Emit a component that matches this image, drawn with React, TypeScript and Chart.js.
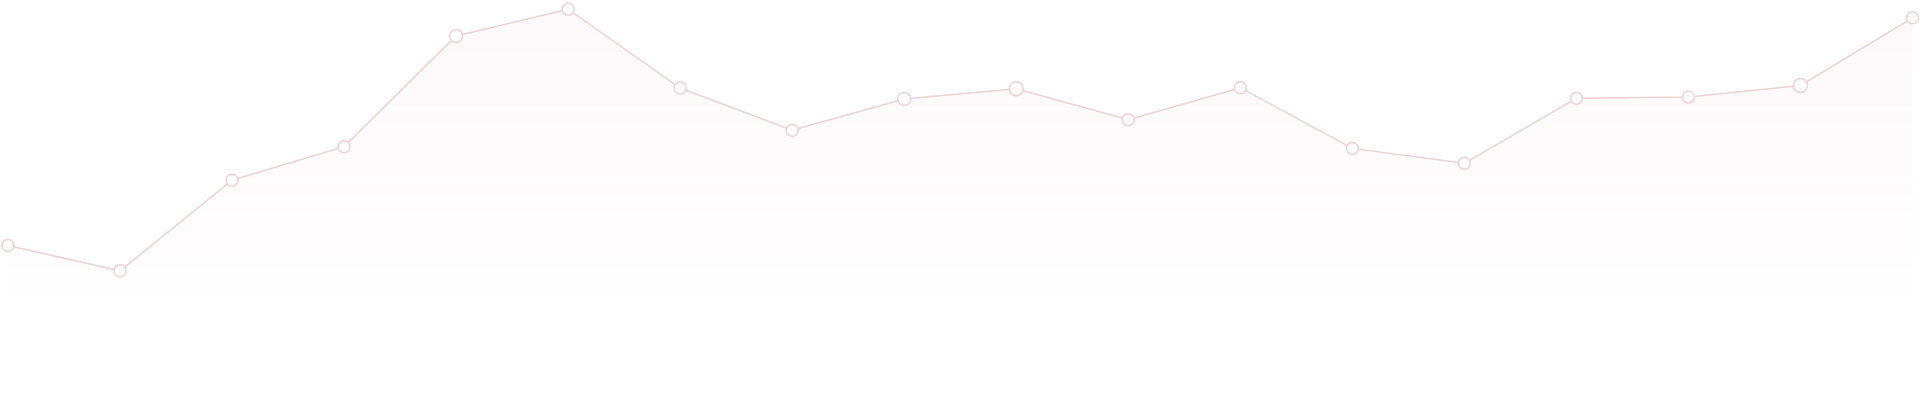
import React, { useEffect, useRef } from "react";
import { Chart, registerables } from "chart.js";

Chart.register(...registerables);

const labels: string[] = [
  "1", "2", "3", "4", "5", "6", "7", "8", "9",
  "10", "11", "12", "13", "14", "15", "16", "17", "18",
];

const values: number[] = [
  17.2, 8.4, 39.9, 51.6, 90.1, 99.4, 72.0, 57.3, 68.2,
  71.7, 61.0, 72.1, 51.0, 45.8, 68.4, 68.9, 72.9, 96.4,
];

const pointRadii: number[] = [
  6, 6, 6, 6, 6.5, 6, 6, 6, 6.5, 7, 6, 6, 6, 6, 6, 6, 7, 6,
];

const Y_MIN = 0;
const Y_MAX = 100;
const LINE_COLOR = "#ecd2d2";

export default function App() {
  const canvasRef = useRef<HTMLCanvasElement | null>(null);

  useEffect(() => {
    if (!canvasRef.current) return;
    const chart = new Chart(canvasRef.current, {
      type: "line",
      data: {
        labels,
        datasets: [
          {
            data: values,
            borderColor: LINE_COLOR,
            borderWidth: 1.5,
            tension: 0,
            fill: "start",
            clip: false,
            pointRadius: pointRadii,
            pointBorderWidth: 1.5,
            pointBorderColor: LINE_COLOR,
            pointBackgroundColor: "#ffffff",
            backgroundColor: (ctx: any) => {
              const area = ctx.chart.chartArea;
              if (!area) return "rgba(225,170,185,0.05)";
              const g = ctx.chart.ctx.createLinearGradient(0, area.top, 0, area.bottom);
              g.addColorStop(0, "rgba(225,170,185,0.08)");
              g.addColorStop(1, "rgba(225,170,185,0.015)");
              return g;
            },
          },
        ],
      },
      options: {
        animation: false,
        responsive: true,
        maintainAspectRatio: false,
        layout: { padding: { left: 8, right: 4, top: 5, bottom: 105 } },
        plugins: {
          legend: { display: false },
          tooltip: { enabled: false },
        },
        scales: {
          x: { display: false, offset: false },
          y: { display: false, min: Y_MIN, max: Y_MAX },
        },
      },
    });
    return () => chart.destroy();
  }, []);

  return (
    <div style={{ position: "absolute", left: 0, top: 0, width: 1920, height: 400, background: "#ffffff" }}>
      <canvas ref={canvasRef} />
    </div>
  );
}
